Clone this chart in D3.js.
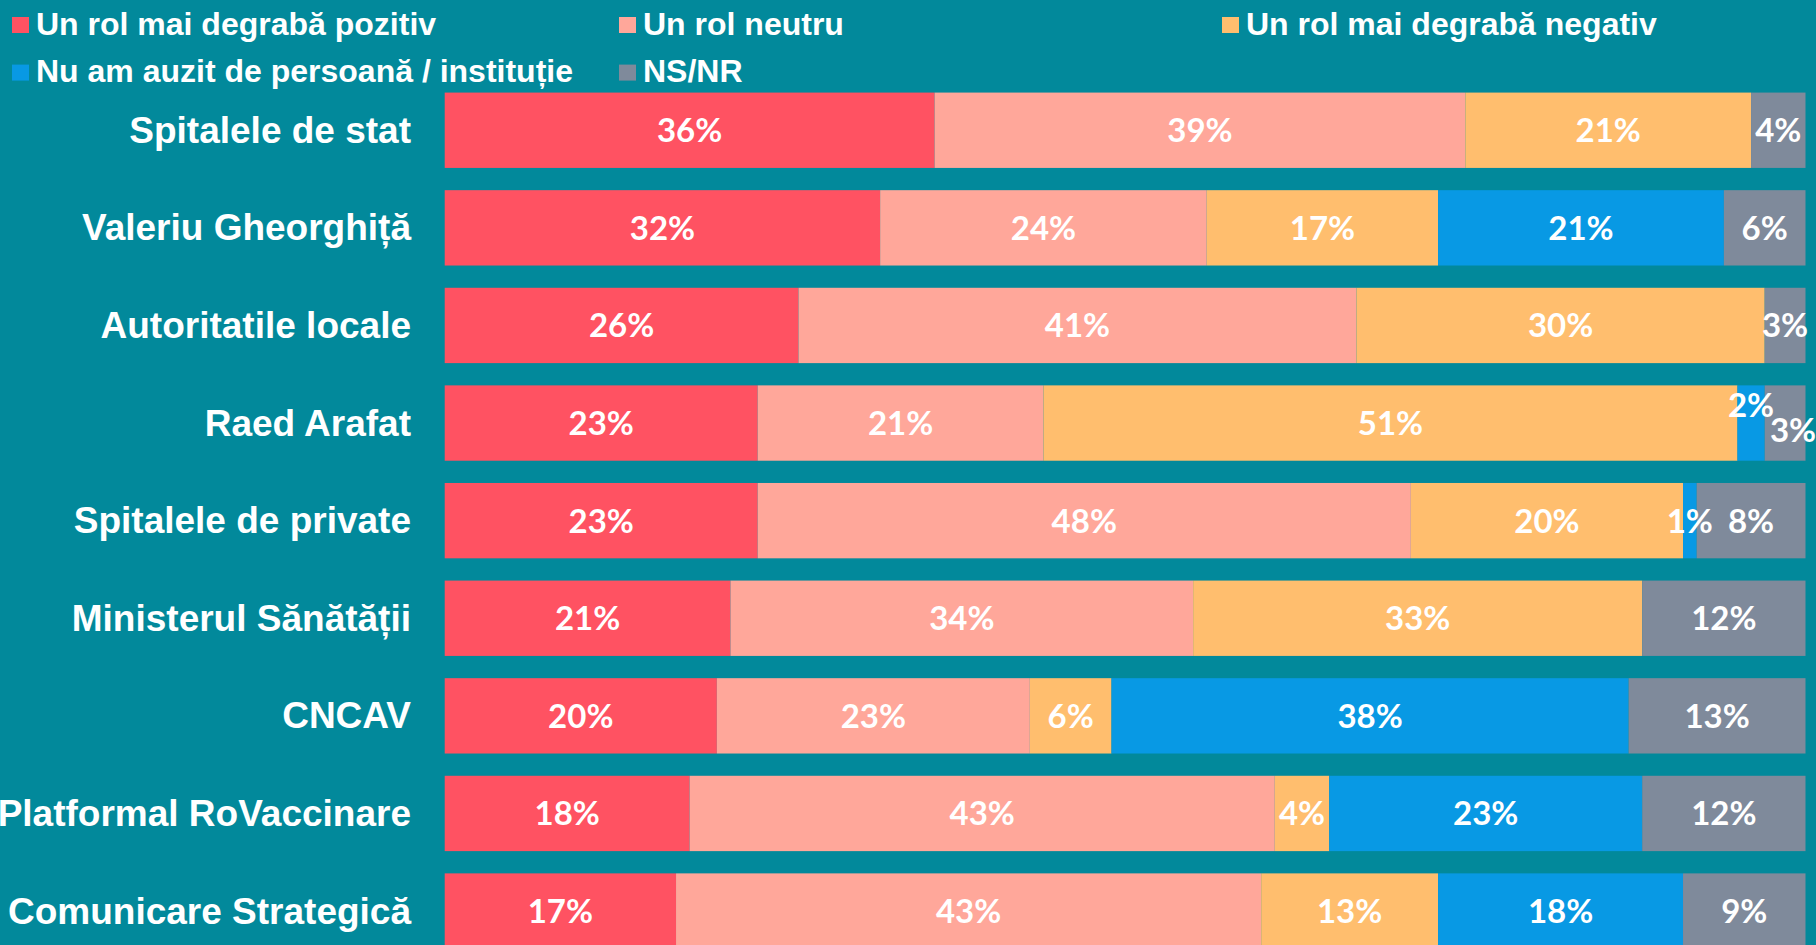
<!DOCTYPE html>
<html>
<head>
<meta charset="utf-8">
<script src="https://cdn.jsdelivr.net/npm/d3@7"></script>
<style>
  html, body { margin: 0; padding: 0; background: #02899B; overflow: hidden; }
  svg { display: block; }
</style>
</head>
<body>
<svg id="chart" width="1816" height="945"></svg>
<script>
// ---- Data ----
const categories = [
  "Spitalele de stat",
  "Valeriu Gheorghiță",
  "Autoritatile locale",
  "Raed Arafat",
  "Spitalele de private",
  "Ministerul Sănătății",
  "CNCAV",
  "Platformal RoVaccinare",
  "Comunicare Strategică"
];
const seriesNames = [
  "Un rol mai degrabă pozitiv",
  "Un rol neutru",
  "Un rol mai degrabă negativ",
  "Nu am auzit de persoană / instituție",
  "NS/NR"
];
const pozitiv = [36, 32, 26, 23, 23, 21, 20, 18, 17];
const neutru  = [39, 24, 41, 21, 48, 34, 23, 43, 43];
const negativ = [21, 17, 30, 51, 20, 33, 6, 4, 13];
const nuAuzit = [0, 21, 0, 2, 1, 0, 38, 23, 18];
const nsnr    = [4, 6, 3, 3, 8, 12, 13, 12, 9];
const seriesColors = ["#FF5262", "#FFA79A", "#FFBE6E", "#0899E4", "#7F8A9B"];

// ---- Build table ----
const seriesValues = [pozitiv, neutru, negativ, nuAuzit, nsnr];
const table = categories.map((c, i) => {
  const row = { category: c };
  seriesNames.forEach((s, j) => { row[s] = seriesValues[j][i]; });
  return row;
});

const svg = d3.select("#chart");
const W = 1816, H = 945;
svg.append("rect").attr("width", W).attr("height", H).attr("fill", "#02899B");

const x = d3.scaleLinear().domain([0, 100]).range([444.7, 1805.5]);
const step = 97.6;
const y = d3.scaleBand()
  .domain(categories)
  .range([81.45, 81.45 + step * categories.length])
  .paddingInner(0.228)
  .paddingOuter(0.114);
const color = d3.scaleOrdinal().domain(seriesNames).range(seriesColors);

const stacked = d3.stack().keys(seriesNames)(table);

// Bars
const groups = svg.append("g").selectAll("g")
  .data(stacked)
  .join("g")
  .attr("fill", d => color(d.key));

groups.selectAll("rect")
  .data(d => d.map(v => ({ key: d.key, v })))
  .join("rect")
  .attr("x", d => x(d.v[0]))
  .attr("y", d => y(d.v.data.category))
  .attr("width", d => Math.max(0, x(d.v[1]) - x(d.v[0])))
  .attr("height", y.bandwidth());

// Manual label nudges (as in the original slide)
const nudge = {
  "Raed Arafat|Nu am auzit de persoană / instituție": [0, -18],
  "Raed Arafat|NS/NR": [8, 7]
};

// Value labels
const labels = svg.append("g")
  .attr("font-family", "Lato, 'Open Sans', sans-serif")
  .attr("font-weight", 700)
  .attr("font-size", 33)
  .attr("fill", "#ffffff")
  .attr("text-anchor", "middle");

stacked.forEach(s => {
  s.forEach(v => {
    const val = v[1] - v[0];
    if (!val) return;
    const k = v.data.category + "|" + s.key;
    const off = nudge[k] || [0, 0];
    labels.append("text")
      .attr("x", (x(v[0]) + x(v[1])) / 2 + off[0])
      .attr("y", y(v.data.category) + y.bandwidth() / 2 + off[1])
      .attr("dy", "0.36em")
      .text(val + "%");
  });
});

// Category labels
svg.append("g")
  .attr("font-family", "'Liberation Sans', Arial, sans-serif")
  .attr("font-weight", 700)
  .attr("font-size", 37)
  .attr("fill", "#ffffff")
  .attr("text-anchor", "end")
  .selectAll("text")
  .data(categories)
  .join("text")
  .attr("x", 411)
  .attr("y", d => y(d) + y.bandwidth() / 2 + 12.5)
  .text(d => d);

// Legend
const legendPos = [
  [12, 0], [619, 0], [1222, 0],
  [12, 1], [619, 1]
];
const legend = svg.append("g")
  .attr("font-family", "'Liberation Sans', Arial, sans-serif")
  .attr("font-weight", 700)
  .attr("font-size", 32)
  .attr("fill", "#ffffff");

const li = legend.selectAll("g")
  .data(seriesNames)
  .join("g")
  .attr("transform", (d, i) => `translate(${legendPos[i][0]},${17 + legendPos[i][1] * 47.6})`);
li.append("rect")
  .attr("width", 17).attr("height", 16)
  .attr("fill", d => color(d));
li.append("text")
  .attr("x", 24)
  .attr("y", 17.5)
  .text(d => d);
</script>
</body>
</html>
